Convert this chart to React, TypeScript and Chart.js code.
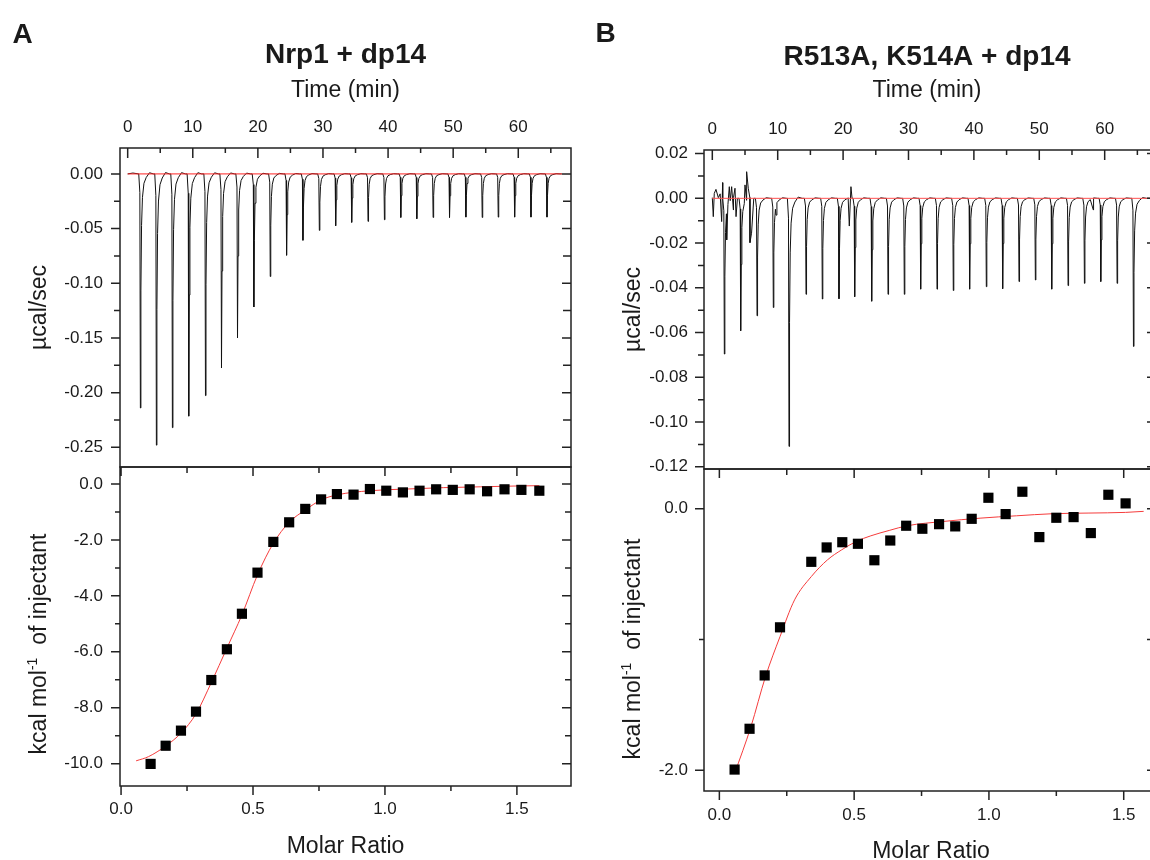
import React, { useEffect, useRef } from "react";
import { Chart, registerables } from "chart.js";

Chart.register(...registerables);

const W = 1150;
const H = 860;
const FONT = "'Liberation Sans', Arial, Helvetica, sans-serif";
const INK = "#1a1a1a";

// ---------------- Panel A : Nrp1 + dp14 ----------------
// raw heat-rate trace: injection peak times (min) and peak minima (µcal/sec)
const A_PEAK_TIME = [1.95, 4.41, 6.87, 9.38, 11.95, 14.41, 16.87, 19.38, 21.9, 24.41, 26.92, 29.44, 31.95, 34.41, 36.92, 39.44, 41.95, 44.41, 46.92, 49.44, 51.95, 54.46, 56.92, 59.44, 61.95, 64.41];
const A_PEAK_DEPTH = [-0.214, -0.248, -0.232, -0.2215, -0.2027, -0.1775, -0.15, -0.1217, -0.0938, -0.0744, -0.0607, -0.0516, -0.0474, -0.0443, -0.0434, -0.0419, -0.0398, -0.041, -0.0398, -0.0398, -0.0395, -0.0398, -0.0395, -0.0395, -0.0395, -0.0395];
const A_TRACE_T = [0, 0.8, 66.7];
const A_TRACE_V = [0, 0.0008, 0];
const A_BASELINE_T = [0, 66.7];
const A_BASELINE_V = [0, 0];
// integrated heats
const A_RATIO = [0.112, 0.169, 0.227, 0.284, 0.342, 0.401, 0.458, 0.517, 0.577, 0.637, 0.698, 0.758, 0.818, 0.881, 0.943, 1.005, 1.068, 1.131, 1.194, 1.257, 1.321, 1.387, 1.453, 1.517, 1.585];
const A_HEAT = [-10.01, -9.36, -8.82, -8.14, -7.01, -5.91, -4.64, -3.17, -2.07, -1.37, -0.89, -0.55, -0.36, -0.38, -0.18, -0.24, -0.3, -0.24, -0.19, -0.21, -0.19, -0.26, -0.19, -0.21, -0.24];
const A_FIT_RATIO = [0.057, 0.104, 0.169, 0.227, 0.284, 0.342, 0.401, 0.458, 0.517, 0.577, 0.637, 0.698, 0.758, 0.818, 0.943, 1.082, 1.223, 1.363, 1.503, 1.585];
const A_FIT_HEAT = [-9.9, -9.75, -9.37, -8.91, -8.22, -7.1, -5.87, -4.68, -3.25, -2.12, -1.37, -0.93, -0.57, -0.39, -0.24, -0.18, -0.13, -0.1, -0.07, -0.06];

// ---------------- Panel B : R513A, K514A + dp14 ----------------
const B_PEAK_TIME = [1.84, 4.34, 6.84, 9.33, 11.73, 14.33, 16.82, 19.37, 21.77, 24.37, 26.87, 29.36, 31.86, 34.36, 36.85, 39.35, 41.9, 44.4, 46.9, 49.4, 51.9, 54.4, 56.9, 59.4, 61.9, 64.4];
const B_PEAK_DEPTH = [-0.0696, -0.0592, -0.0525, -0.0488, -0.1109, -0.0429, -0.045, -0.0449, -0.044, -0.046, -0.0429, -0.0429, -0.0406, -0.0406, -0.0412, -0.0406, -0.0395, -0.0404, -0.0372, -0.0365, -0.0406, -0.039, -0.038, -0.0372, -0.038, -0.0662];
const B_TRACE_T = [0, 0.15, 0.3, 0.56, 0.92, 1.2, 1.43, 1.58, 2.2, 2.6, 2.96, 3.22, 3.47, 3.63, 5.0, 5.25, 5.5, 5.76, 6.0, 9.74, 20.7, 20.95, 21.2, 58.26, 66.9];
const B_TRACE_V = [0.0003, -0.0082, 0.0022, 0.004, 0.0003, 0.002, -0.0104, 0.007, -0.0186, 0.0052, 0.0052, -0.0052, 0.0045, -0.0082, 0.006, 0.0119, 0.0045, -0.0198, -0.0156, -0.0075, 0, -0.0124, 0.0052, -0.0052, 0];
const B_BASELINE_T = [0, 67];
const B_BASELINE_V = [0, 0];
const B_RATIO = [0.0565, 0.112, 0.168, 0.225, 0.341, 0.398, 0.456, 0.514, 0.575, 0.634, 0.693, 0.753, 0.815, 0.875, 0.936, 0.998, 1.062, 1.124, 1.187, 1.25, 1.314, 1.378, 1.443, 1.507];
const B_HEAT = [-1.995, -1.683, -1.275, -0.907, -0.406, -0.296, -0.256, -0.268, -0.394, -0.243, -0.13, -0.153, -0.118, -0.135, -0.077, 0.084, -0.041, 0.13, -0.217, -0.069, -0.064, -0.186, 0.107, 0.041];
const B_FIT_RATIO = [0.0565, 0.117, 0.171, 0.225, 0.279, 0.341, 0.401, 0.454, 0.508, 0.562, 0.63, 0.697, 0.832, 0.967, 1.102, 1.237, 1.371, 1.507, 1.574];
const B_FIT_HEAT = [-2.026, -1.668, -1.285, -0.978, -0.697, -0.519, -0.391, -0.314, -0.25, -0.207, -0.166, -0.13, -0.097, -0.072, -0.054, -0.038, -0.033, -0.028, -0.02];

// shape of one injection spike (minutes from minimum, fraction of peak depth)
const SPIKE_DT = [-0.25, -0.08, 0, 0.08, 0.18, 0.32, 0.55, 0.9, 1.4, 2.0];
const SPIKE_FRAC = [0, 0.08, 1, 0.5, 0.22, 0.1, 0.04, 0.015, -0.005, 0];

// ---------------- tick labels ----------------
const TIME_TICKS = [0, 10, 20, 30, 40, 50, 60];
const TIME_MINOR = [5, 15, 25, 35, 45, 55, 65];
const A_TOP_Y_TICKS = [0, -0.05, -0.1, -0.15, -0.2, -0.25];
const A_TOP_Y_MINOR = [-0.025, -0.075, -0.125, -0.175, -0.225];
const A_BOT_Y_TICKS = [0, -2, -4, -6, -8, -10];
const A_BOT_Y_MINOR = [-1, -3, -5, -7, -9];
const RATIO_TICKS = [0, 0.5, 1, 1.5];
const RATIO_MINOR = [0.25, 0.75, 1.25];
const B_TOP_Y_TICKS = [0.02, 0, -0.02, -0.04, -0.06, -0.08, -0.1, -0.12];
const B_TOP_Y_MINOR = [0.01, -0.01, -0.03, -0.05, -0.07, -0.09, -0.11];
const B_BOT_Y_TICKS = [0, -2];
const B_BOT_Y_MINOR = [-1];

function buildTrace(pt: number[], pd: number[], et: number[], ev: number[]) {
  const pts: { x: number; y: number }[] = [];
  pt.forEach((t0, i) => {
    SPIKE_DT.forEach((dt, k) => pts.push({ x: t0 + dt, y: pd[i] * SPIKE_FRAC[k] }));
  });
  et.forEach((t, i) => pts.push({ x: t, y: ev[i] }));
  pts.sort((a, b) => a.x - b.x);
  return pts;
}
const xy = (xs: number[], ys: number[]) => xs.map((x, i) => ({ x, y: ys[i] }));

const framePlugin = {
  id: "frame",
  afterDraw(chart: any, _args: any, opts: any) {
    const { ctx, chartArea: a } = chart;
    ctx.save();
    ctx.strokeStyle = "#222";
    ctx.lineWidth = 1.5;
    ctx.beginPath();
    const s: string[] = opts.sides || [];
    if (s.includes("top")) { ctx.moveTo(a.left - 0.75, a.top); ctx.lineTo(a.right + 0.75, a.top); }
    if (s.includes("bottom")) { ctx.moveTo(a.left - 0.75, a.bottom); ctx.lineTo(a.right + 0.75, a.bottom); }
    if (s.includes("left")) { ctx.moveTo(a.left, a.top); ctx.lineTo(a.left, a.bottom); }
    if (s.includes("right")) { ctx.moveTo(a.right, a.top); ctx.lineTo(a.right, a.bottom); }
    for (const m of opts.marks || []) {
      const sc = chart.scales[m.axis];
      for (const v of m.vals) {
        const p = sc.getPixelForValue(v);
        if (m.side === "left") { ctx.moveTo(a.left, p); ctx.lineTo(m.inward ? a.left + m.len : a.left - m.len, p); }
        if (m.side === "right") { ctx.moveTo(a.right, p); ctx.lineTo(m.inward ? a.right - m.len : a.right + m.len, p); }
        if (m.side === "top") { ctx.moveTo(p, a.top); ctx.lineTo(p, m.inward ? a.top + m.len : a.top - m.len); }
        if (m.side === "bottom") { ctx.moveTo(p, a.bottom); ctx.lineTo(p, m.inward ? a.bottom - m.len : a.bottom + m.len); }
      }
    }
    ctx.stroke();
    ctx.restore();

    for (const tx of opts.texts || []) {
      ctx.save();
      ctx.fillStyle = INK;
      ctx.textBaseline = "alphabetic";
      ctx.translate(tx.x, tx.y);
      if (tx.rot) ctx.rotate(-Math.PI / 2);
      const parts = tx.parts || [{ s: tx.text, size: tx.size, dy: 0 }];
      let total = 0;
      const widths: number[] = [];
      for (const p of parts) {
        ctx.font = `${tx.bold ? "bold " : ""}${p.size}px ${FONT}`;
        const w = ctx.measureText(p.s).width;
        widths.push(w);
        total += w;
      }
      let cx = -total / 2;
      ctx.textAlign = "left";
      parts.forEach((p: any, i: number) => {
        ctx.font = `${tx.bold ? "bold " : ""}${p.size}px ${FONT}`;
        ctx.fillText(p.s, cx, p.dy || 0);
        cx += widths[i];
      });
      ctx.restore();
    }
  },
};

function makePanel(p: any) {
  const { area } = p;
  const xTop = p.xPos === "top";
  return {
    type: "scatter",
    data: { datasets: p.datasets },
    options: {
      responsive: false,
      maintainAspectRatio: false,
      animation: false,
      devicePixelRatio: 1,
      events: [],
      layout: {
        autoPadding: false,
        padding: { left: 0, top: xTop ? 0 : area.t, right: W - area.r, bottom: xTop ? H - area.b : 0 },
      },
      plugins: {
        legend: { display: false },
        tooltip: { enabled: false },
        frame: { marks: p.marks, texts: p.texts, sides: p.sides },
      },
      scales: {
        x: {
          type: "linear",
          position: p.xPos,
          min: p.xMin,
          max: p.xMax,
          bounds: "data",
          grid: { display: false, drawTicks: false },
          border: { display: false },
          afterBuildTicks: (s: any) => { s.ticks = p.xTicks.map((v: number) => ({ value: v })); },
          afterFit: (s: any) => { s.height = xTop ? area.t : H - area.b; },
          ticks: {
            autoSkip: false, maxRotation: 0, minRotation: 0, padding: p.xPad, color: INK,
            font: { family: FONT, size: 17 },
            callback: (v: number) => p.xFmt(v),
          },
        },
        y: {
          type: "linear",
          position: "left",
          min: p.yMin,
          max: p.yMax,
          bounds: "data",
          grid: { display: false, drawTicks: false },
          border: { display: false },
          afterBuildTicks: (s: any) => { s.ticks = p.yTicks.map((v: number) => ({ value: v })); },
          afterFit: (s: any) => { s.width = area.l; },
          ticks: {
            autoSkip: false, padding: p.yPad, color: INK,
            font: { family: FONT, size: 17 },
            callback: (v: number) => p.yFmt(v),
          },
        },
      },
    },
    plugins: [framePlugin],
  };
}

const traceStyle = { showLine: true, borderColor: "#111", borderWidth: 1, pointRadius: 0, tension: 0 };
const baseStyle = { showLine: true, borderColor: "rgb(255,35,35)", borderWidth: 1, pointRadius: 0 };
const dotStyle = { showLine: false, pointStyle: "rect", pointRadius: 7.2, backgroundColor: "#000", borderWidth: 0 };
const fitStyle = { showLine: true, borderColor: "rgb(245,60,60)", borderWidth: 1, pointRadius: 0, cubicInterpolationMode: "monotone" };

const f0 = (v: number) => String(v);
const f1 = (v: number) => v.toFixed(1);
const f2 = (v: number) => v.toFixed(2);

const makeATop = () =>
  makePanel({
    area: { l: 120, t: 148, r: 571, b: 467 },
    xPos: "top", xMin: -1.18, xMax: 68.1, xTicks: TIME_TICKS, xFmt: f0, xPad: 10,
    yMin: -0.268, yMax: 0.0237, yTicks: A_TOP_Y_TICKS, yFmt: f2, yPad: 17,
    datasets: [
      { ...baseStyle, data: xy(A_BASELINE_T, A_BASELINE_V) },
      { ...traceStyle, data: buildTrace(A_PEAK_TIME, A_PEAK_DEPTH, A_TRACE_T, A_TRACE_V) },
    ],
    sides: ["top", "bottom", "left", "right"],
    marks: [
      { axis: "y", side: "left", vals: A_TOP_Y_TICKS, len: 9, inward: false },
      { axis: "y", side: "left", vals: A_TOP_Y_MINOR, len: 6, inward: false },
      { axis: "y", side: "right", vals: A_TOP_Y_TICKS, len: 9, inward: true },
      { axis: "y", side: "right", vals: A_TOP_Y_MINOR, len: 8, inward: true },
      { axis: "x", side: "top", vals: TIME_TICKS, len: 10, inward: true },
      { axis: "x", side: "top", vals: TIME_MINOR, len: 5, inward: true },
    ],
    texts: [
      { text: "A", x: 22.7, y: 43.3, size: 28, bold: true },
      { text: "Nrp1 + dp14", x: 345.5, y: 63.3, size: 28, bold: true },
      { text: "Time (min)", x: 345.5, y: 96.7, size: 23 },
      { text: "µcal/sec", x: 46, y: 307.5, size: 23, rot: true },
    ],
  });

const makeABot = () =>
  makePanel({
    area: { l: 120, t: 467, r: 571, b: 786 },
    xPos: "bottom", xMin: -0.004, xMax: 1.705, xTicks: RATIO_TICKS, xFmt: f1, xPad: 13,
    yMin: -10.8, yMax: 0.608, yTicks: A_BOT_Y_TICKS, yFmt: f1, yPad: 17,
    datasets: [
      { ...dotStyle, data: xy(A_RATIO, A_HEAT) },
      { ...fitStyle, data: xy(A_FIT_RATIO, A_FIT_HEAT) },
    ],
    sides: ["top", "bottom", "left", "right"],
    marks: [
      { axis: "y", side: "left", vals: A_BOT_Y_TICKS, len: 9, inward: false },
      { axis: "y", side: "left", vals: A_BOT_Y_MINOR, len: 5, inward: false },
      { axis: "y", side: "right", vals: A_BOT_Y_TICKS, len: 9, inward: true },
      { axis: "y", side: "right", vals: A_BOT_Y_MINOR, len: 6, inward: true },
      { axis: "x", side: "bottom", vals: RATIO_TICKS, len: 9, inward: false },
      { axis: "x", side: "bottom", vals: RATIO_MINOR, len: 5, inward: false },
      { axis: "x", side: "top", vals: RATIO_TICKS, len: 9, inward: true },
      { axis: "x", side: "top", vals: RATIO_MINOR, len: 6, inward: true },
    ],
    texts: [
      { text: "Molar Ratio", x: 345.5, y: 853, size: 23 },
      {
        x: 46, y: 644, rot: true,
        parts: [
          { s: "kcal mol", size: 23 },
          { s: "-1", size: 14, dy: -9 },
          { s: "  of injectant", size: 23 },
        ],
      },
    ],
  });

const makeBTop = () =>
  makePanel({
    area: { l: 704, t: 150, r: 1150, b: 469 },
    xPos: "top", xMin: -1.27, xMax: 66.93, xTicks: TIME_TICKS, xFmt: f0, xPad: 10,
    yMin: -0.121, yMax: 0.0216, yTicks: B_TOP_Y_TICKS, yFmt: f2, yPad: 16,
    datasets: [
      { ...baseStyle, borderColor: "rgb(255,80,80)", data: xy(B_BASELINE_T, B_BASELINE_V) },
      { ...traceStyle, data: buildTrace(B_PEAK_TIME, B_PEAK_DEPTH, B_TRACE_T, B_TRACE_V) },
    ],
    sides: ["top", "bottom", "left"],
    marks: [
      { axis: "y", side: "left", vals: B_TOP_Y_TICKS, len: 9, inward: false },
      { axis: "y", side: "left", vals: B_TOP_Y_MINOR, len: 6, inward: false },
      { axis: "y", side: "right", vals: B_TOP_Y_TICKS, len: 3, inward: true },
      { axis: "x", side: "top", vals: TIME_TICKS, len: 10, inward: true },
      { axis: "x", side: "top", vals: TIME_MINOR, len: 5, inward: true },
    ],
    texts: [
      { text: "B", x: 605.5, y: 41.7, size: 28, bold: true },
      { text: "R513A, K514A + dp14", x: 927, y: 65, size: 28, bold: true },
      { text: "Time (min)", x: 927, y: 96.7, size: 23 },
      { text: "µcal/sec", x: 640, y: 309.5, size: 23, rot: true },
    ],
  });

const makeBBot = () =>
  makePanel({
    area: { l: 704, t: 469, r: 1150, b: 791 },
    xPos: "bottom", xMin: -0.057, xMax: 1.5975, xTicks: RATIO_TICKS, xFmt: f1, xPad: 14,
    yMin: -2.159, yMax: 0.304, yTicks: B_BOT_Y_TICKS, yFmt: f1, yPad: 16,
    datasets: [
      { ...dotStyle, data: xy(B_RATIO, B_HEAT) },
      { ...fitStyle, data: xy(B_FIT_RATIO, B_FIT_HEAT) },
    ],
    sides: ["top", "bottom", "left"],
    marks: [
      { axis: "y", side: "left", vals: B_BOT_Y_TICKS, len: 9, inward: false },
      { axis: "y", side: "left", vals: B_BOT_Y_MINOR, len: 5, inward: false },
      { axis: "y", side: "right", vals: [...B_BOT_Y_TICKS, ...B_BOT_Y_MINOR], len: 3, inward: true },
      { axis: "x", side: "bottom", vals: RATIO_TICKS, len: 9, inward: false },
      { axis: "x", side: "bottom", vals: RATIO_MINOR, len: 5, inward: false },
      { axis: "x", side: "top", vals: RATIO_TICKS, len: 9, inward: true },
      { axis: "x", side: "top", vals: RATIO_MINOR, len: 6, inward: true },
    ],
    texts: [
      { text: "Molar Ratio", x: 931, y: 858, size: 23 },
      {
        x: 640, y: 649, rot: true,
        parts: [
          { s: "kcal mol", size: 23 },
          { s: "-1", size: 14, dy: -9 },
          { s: "  of injectant", size: 23 },
        ],
      },
    ],
  });

function Panel({ make }: { make: () => any }) {
  const ref = useRef<HTMLCanvasElement | null>(null);
  useEffect(() => {
    const chart = new Chart(ref.current as HTMLCanvasElement, make() as any);
    return () => chart.destroy();
  }, [make]);
  return (
    <canvas
      ref={ref}
      width={W}
      height={H}
      style={{ position: "absolute", left: 0, top: 0, width: W, height: H }}
    />
  );
}

export default function App() {
  return (
    <div style={{ position: "fixed", left: 0, top: 0, width: W, height: H, background: "#fff", overflow: "hidden" }}>
      <Panel make={makeATop} />
      <Panel make={makeABot} />
      <Panel make={makeBTop} />
      <Panel make={makeBBot} />
    </div>
  );
}
